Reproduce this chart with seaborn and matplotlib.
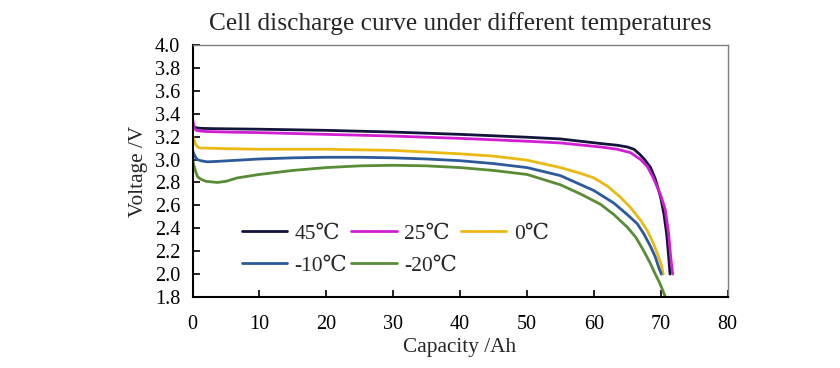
import matplotlib
matplotlib.use("Agg")
import matplotlib.pyplot as plt
import seaborn as sns
import pandas as pd
import numpy as np

sns.set_theme(style="white")
plt.rcParams['font.family'] = ['Liberation Serif', 'DejaVu Serif']

labels = ["45℃", "25℃", "0℃", "-10℃", "-20℃"]
colors = ["#14143c", "#d21ed2", "#ebb914", "#2d5a9b", "#5a8c37"]

cap_45 = [0, 0.15, 0.4, 0.8, 1.5, 3, 10, 20, 30, 40, 50, 55, 61, 63.5, 65.0, 66.0, 66.8, 67.6, 68.5,
          69.2, 70.0, 70.5, 70.9, 71.2, 71.4]
v_45 = [3.31, 3.29, 3.28, 3.275, 3.272, 3.27, 3.265, 3.255, 3.24, 3.22, 3.195, 3.18, 3.14, 3.125,
        3.11, 3.09, 3.05, 3.0, 2.93, 2.83, 2.67, 2.52, 2.35, 2.15, 2.00]

cap_25 = [0, 0.1, 0.3, 0.6, 1.0, 2, 5, 10, 20, 30, 40, 50, 55, 61, 63.5, 65.5, 67.0, 68.0, 68.9,
          70.0, 70.7, 71.2, 71.5, 71.8]
v_25 = [3.36, 3.32, 3.27, 3.255, 3.25, 3.245, 3.24, 3.235, 3.22, 3.205, 3.185, 3.16, 3.145, 3.11,
        3.09, 3.06, 3.00, 2.94, 2.84, 2.69, 2.56, 2.35, 2.15, 2.00]

cap_0 = [0, 0.2, 0.5, 0.75, 1.2, 2, 5, 10, 20, 30, 40, 45, 50, 55, 58, 60, 62, 64, 65.5, 67.0, 68.0,
         68.9, 69.5, 70.0, 70.4]
v_0 = [3.21, 3.17, 3.13, 3.11, 3.10, 3.10, 3.095, 3.09, 3.09, 3.08, 3.05, 3.03, 2.995, 2.93, 2.88,
       2.84, 2.77, 2.67, 2.58, 2.47, 2.38, 2.27, 2.18, 2.10, 2.00]

cap_m10 = [0, 0.2, 0.5, 0.75, 1.2, 2.2, 4, 7, 10, 15, 20, 25, 30, 35, 40, 45, 50, 55, 60, 63, 65,
           66.5, 67.5, 68.5, 69.2, 69.7, 70.1]
v_m10 = [3.08, 3.05, 3.015, 3.0, 2.99, 2.98, 2.985, 2.995, 3.005, 3.015, 3.02, 3.02, 3.015, 3.005,
         2.99, 2.965, 2.93, 2.86, 2.73, 2.62, 2.52, 2.44, 2.35, 2.24, 2.15, 2.06, 2.00]

cap_m20 = [0, 0.2, 0.5, 0.75, 1.2, 2, 3.7, 5, 6.7, 10, 15, 20, 25, 30, 35, 40, 45, 50, 55, 58, 61,
           63, 65, 66.3, 67.4, 68.4, 69.2, 69.8, 70.3, 70.7]
v_m20 = [3.00, 2.95, 2.89, 2.85, 2.83, 2.81, 2.80, 2.81, 2.84, 2.87, 2.905, 2.93, 2.945, 2.95,
         2.945, 2.93, 2.905, 2.87, 2.78, 2.70, 2.61, 2.52, 2.41, 2.32, 2.21, 2.10, 2.00, 1.93,
         1.86, 1.80]

caps = [cap_45, cap_25, cap_0, cap_m10, cap_m20]
volts = [v_45, v_25, v_0, v_m10, v_m20]

frames = []
for lab, c, v in zip(labels, caps, volts):
    frames.append(pd.DataFrame({"Capacity": c, "Voltage": v, "Temp": lab}))
df = pd.concat(frames, ignore_index=True)

fig = plt.figure(figsize=(8.4, 3.68), dpi=100)
ax = fig.add_axes([0.2292, 0.1929, 0.6369, 0.6848])

sns.lineplot(data=df, x="Capacity", y="Voltage", hue="Temp", hue_order=labels,
             palette=colors, ax=ax, linewidth=2.0, sort=False, estimator=None)

ax.set_xlim(0, 80)
ax.set_ylim(1.8, 4.0)
ax.set_xticks(np.arange(0, 81, 10))
yt = np.round(np.arange(1.8, 4.01, 0.2), 1)
ax.set_yticks(yt)
ax.set_yticklabels([f"{t:.1f}" for t in yt])
ax.tick_params(direction="in", length=5, width=1.2, labelsize=14.5, colors="black",
               left=True, bottom=True)
ax.tick_params(axis="x", pad=13)
ax.tick_params(axis="y", pad=9)
for s in ["left", "bottom"]:
    ax.spines[s].set_color("black")
    ax.spines[s].set_linewidth(1.5)
for s in ["top", "right"]:
    ax.spines[s].set_color("#7f7f7f")
    ax.spines[s].set_linewidth(1.0)

ax.set_xlabel("Capacity /Ah", fontsize=15.3, labelpad=3)
ax.set_ylabel("Voltage /V", fontsize=15.3, labelpad=5)
ax.set_title("Cell discharge curve under different temperatures", fontsize=18.3, pad=11)

handles, labs = ax.get_legend_handles_labels()
hmap = dict(zip(labs, handles))
order = ["45℃", "-10℃", "25℃", "-20℃", "0℃"]
leg = ax.legend([hmap[k] for k in order], order, loc="upper left",
                bbox_to_anchor=(0.092, 0.29), ncol=3, frameon=False,
                fontsize=15.5, handlelength=2.1, handletextpad=0.35, columnspacing=0.2,
                labelspacing=0.55, borderaxespad=0, borderpad=0)
for h in leg.get_lines():
    h.set_linewidth(2.0)

fig.savefig("out.png", dpi=100)
